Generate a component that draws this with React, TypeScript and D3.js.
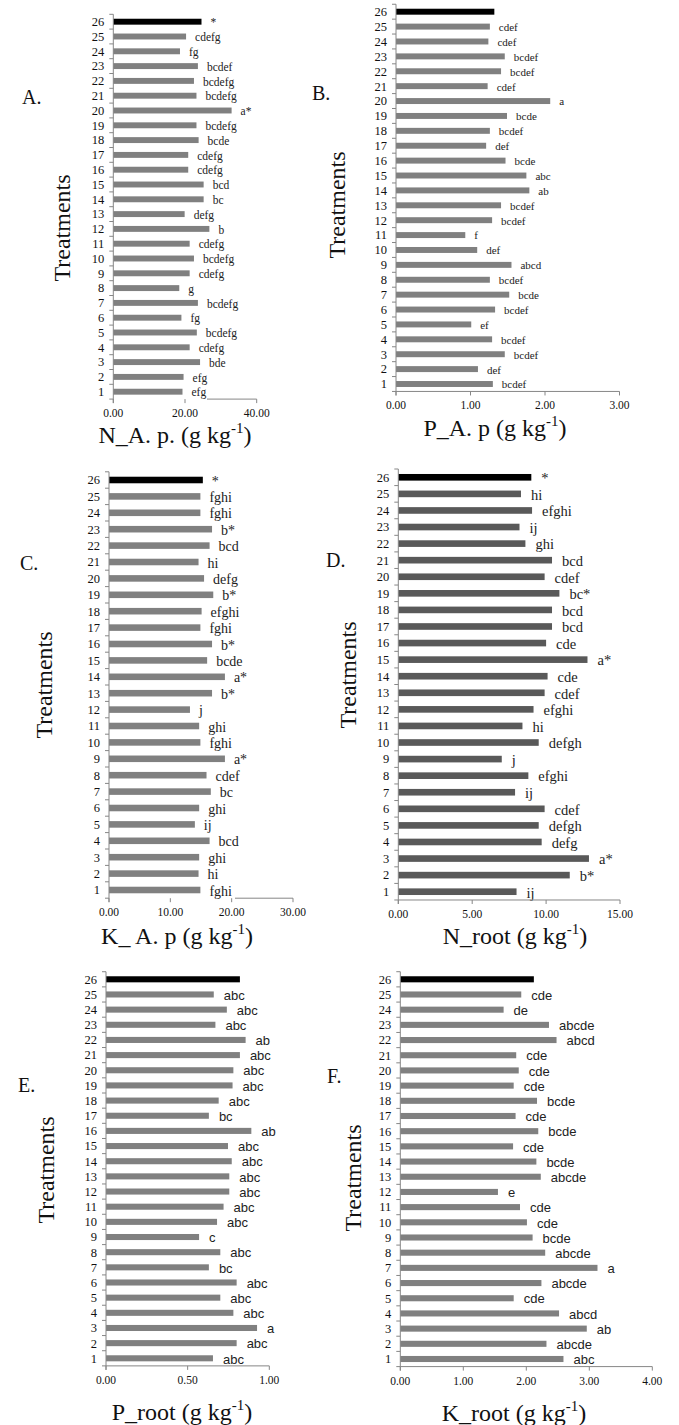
import * as d3 from 'd3';

// Treatments, top (26 = control, black bar) to bottom.
const TREATMENTS = ['26', '25', '24', '23', '22', '21', '20', '19', '18', '17', '16', '15', '14',
  '13', '12', '11', '10', '9', '8', '7', '6', '5', '4', '3', '2', '1'];

// A. N in aerial part (g kg-1)
const N_AP = [24.6, 20.3, 18.6, 23.6, 22.5, 23.2, 33.0, 23.2, 23.8, 20.9, 20.9, 25.2, 25.2,
  19.9, 26.8, 21.3, 22.5, 21.3, 18.4, 23.6, 19.0, 23.3, 21.3, 24.2, 19.6, 19.3];
const N_AP_LETTERS = ['*', 'cdefg', 'fg', 'bcdef', 'bcdefg', 'bcdefg', 'a*', 'bcdefg', 'bcde', 'cdefg',
  'cdefg', 'bcd', 'bc', 'defg', 'b', 'cdefg', 'bcdefg', 'cdefg', 'g', 'bcdefg', 'fg', 'bcdefg',
  'cdefg', 'bde', 'efg', 'efg'];

// B. P in aerial part
const P_AP = [1.32, 1.26, 1.24, 1.46, 1.41, 1.23, 2.07, 1.49, 1.26, 1.21, 1.47, 1.75, 1.79,
  1.41, 1.29, 0.93, 1.09, 1.55, 1.26, 1.52, 1.33, 1.01, 1.29, 1.46, 1.10, 1.30];
const P_AP_LETTERS = ['', 'cdef', 'cdef', 'bcdef', 'bcdef', 'cdef', 'a', 'bcde', 'bcdef', 'def', 'bcde',
  'abc', 'ab', 'bcdef', 'bcdef', 'f', 'def', 'abcd', 'bcdef', 'bcde', 'bcdef', 'ef', 'bcdef',
  'bcdef', 'def', 'bcdef'];

// C. K in aerial part
const K_AP = [15.3, 14.9, 14.9, 16.8, 16.4, 14.6, 15.5, 17.0, 15.1, 14.9, 16.8, 16.0, 18.9,
  16.8, 13.2, 14.7, 14.9, 18.9, 15.9, 16.6, 14.7, 14.0, 16.4, 14.7, 14.6, 14.9];
const K_AP_LETTERS = ['*', 'fghi', 'fghi', 'b*', 'bcd', 'hi', 'defg', 'b*', 'efghi', 'fghi', 'b*',
  'bcde', 'a*', 'b*', 'j', 'ghi', 'fghi', 'a*', 'cdef', 'bc', 'ghi', 'ij', 'bcd', 'ghi', 'hi', 'fghi'];

// D. N in root
const N_ROOT = [9.0, 8.3, 9.05, 8.2, 8.6, 10.4, 9.9, 10.9, 10.4, 10.4, 10.0, 12.8, 10.1,
  9.9, 9.15, 8.4, 9.5, 7.0, 8.8, 7.9, 9.9, 9.5, 9.7, 12.9, 11.6, 8.0];
const N_ROOT_LETTERS = ['*', 'hi', 'efghi', 'ij', 'ghi', 'bcd', 'cdef', 'bc*', 'bcd', 'bcd', 'cde',
  'a*', 'cde', 'cdef', 'efghi', 'hi', 'defgh', 'j', 'efghi', 'ij', 'cdef', 'defgh', 'defg', 'a*',
  'b*', 'ij'];

// E. P in root
const P_ROOT = [0.82, 0.66, 0.74, 0.67, 0.855, 0.82, 0.78, 0.775, 0.69, 0.63, 0.89, 0.747, 0.77,
  0.755, 0.755, 0.72, 0.68, 0.57, 0.70, 0.63, 0.80, 0.70, 0.78, 0.925, 0.80, 0.655];
const P_ROOT_LETTERS = ['', 'abc', 'abc', 'abc', 'ab', 'abc', 'abc', 'abc', 'abc', 'bc', 'ab', 'abc',
  'abc', 'abc', 'abc', 'abc', 'abc', 'c', 'abc', 'bc', 'abc', 'abc', 'abc', 'a', 'abc', 'abc'];

// F. K in root
const K_ROOT = [2.12, 1.92, 1.64, 2.36, 2.48, 1.84, 1.88, 1.80, 2.17, 1.83, 2.19, 1.79, 2.16,
  2.23, 1.55, 1.90, 2.01, 2.10, 2.30, 3.13, 2.24, 1.80, 2.52, 2.96, 2.32, 2.59];
const K_ROOT_LETTERS = ['', 'cde', 'de', 'abcde', 'abcd', 'cde', 'cde', 'cde', 'bcde', 'cde', 'bcde',
  'cde', 'bcde', 'abcde', 'e', 'cde', 'cde', 'bcde', 'abcde', 'a', 'abcde', 'cde', 'abcd', 'ab',
  'abcde', 'abc'];

const SERIF = "Liberation Serif, DejaVu Serif, Times New Roman, serif";
const SANS = "Liberation Sans, Arial, sans-serif";
const AXIS = '#868686';

type PanelCfg = {
  tag: string; title: string;
  values: number[]; letters: string[];
  xMax: number; tickStep: number;
  x0: number; x1: number; yTop: number; yBot: number;
  barColor: string; letterSize: number; letterFont: string;
  tagX: number; tagY: number; treatX: number; treatY: number;
  titleX: number; titleY: number; axisFrom?: number; labelGap: number;
};

const PANELS: PanelCfg[] = [
  { tag: 'A.', title: 'N_A. p. (g kg', values: N_AP, letters: N_AP_LETTERS, xMax: 40, tickStep: 20,
    x0: 113.3, x1: 256.7, yTop: 21.7, yBot: 391.7, barColor: '#808080', letterSize: 11.5, letterFont: SERIF,
    tagX: 22, tagY: 104, treatX: 70, treatY: 228, titleX: 175, titleY: 443, axisFrom: 207, labelGap: 9 },
  { tag: 'B.', title: 'P_A. p (g kg', values: P_AP, letters: P_AP_LETTERS, xMax: 3, tickStep: 1,
    x0: 396, x1: 619.5, yTop: 11.7, yBot: 384, barColor: '#808080', letterSize: 11, letterFont: SERIF,
    tagX: 312, tagY: 100, treatX: 345, treatY: 205, titleX: 495, titleY: 436, labelGap: 9 },
  { tag: 'C.', title: 'K_ A. p (g kg', values: K_AP, letters: K_AP_LETTERS, xMax: 30, tickStep: 10,
    x0: 109, x1: 293, yTop: 480, yBot: 890, barColor: '#808080', letterSize: 14, letterFont: SERIF,
    tagX: 20, tagY: 570, treatX: 52, treatY: 685, titleX: 177, titleY: 944, axisFrom: 235, labelGap: 9 },
  { tag: 'D.', title: 'N_root (g kg', values: N_ROOT, letters: N_ROOT_LETTERS, xMax: 15, tickStep: 5,
    x0: 398.3, x1: 620, yTop: 477.3, yBot: 891.7, barColor: '#595959', letterSize: 14.5, letterFont: SERIF,
    tagX: 326, tagY: 567, treatX: 356, treatY: 675, titleX: 515, titleY: 944, labelGap: 10 },
  { tag: 'E.', title: 'P_root (g kg', values: P_ROOT, letters: P_ROOT_LETTERS, xMax: 1, tickStep: 0.5,
    x0: 106, x1: 269.3, yTop: 979.3, yBot: 1358.3, barColor: '#808080', letterSize: 13, letterFont: SANS,
    tagX: 18, tagY: 1092, treatX: 54, treatY: 1170, titleX: 182, titleY: 1420, labelGap: 10 },
  { tag: 'F.', title: 'K_root (g kg', values: K_ROOT, letters: K_ROOT_LETTERS, xMax: 4, tickStep: 1,
    x0: 400.3, x1: 652.3, yTop: 979.3, yBot: 1359, barColor: '#808080', letterSize: 13, letterFont: SANS,
    tagX: 327, tagY: 1083, treatX: 361, treatY: 1178, titleX: 514, titleY: 1421, labelGap: 10 },
];

function Panel({ p }: { p: PanelCfg }) {
  const x = d3.scaleLinear().domain([0, p.xMax]).range([p.x0, p.x1]);
  const step = (p.yBot - p.yTop) / (TREATMENTS.length - 1);
  const y = d3.scaleBand<string>()
    .domain(TREATMENTS)
    .range([p.yTop - step / 2, p.yBot + step / 2])
    .paddingInner(0.6)
    .paddingOuter(0.3);
  const axisTop = p.yTop - step / 2;
  const axisY = p.yBot + step / 2;
  const ticks = d3.range(0, p.xMax + 1e-9, p.tickStep);
  const fmt = d3.format('.2f');

  return (
    <g>
      {/* bars */}
      {TREATMENTS.map((t, i) => (
        <rect key={t} x={x(0)} y={y(t)} width={x(p.values[i]) - x(0)} height={y.bandwidth()}
          fill={t === '26' ? '#000' : p.barColor} />
      ))}
      {/* significance letters */}
      {TREATMENTS.map((t, i) => (
        <text key={'l' + t} x={x(p.values[i]) + p.labelGap} y={(y(t) ?? 0) + y.bandwidth() / 2}
          dy="0.4em" style={{ fontFamily: p.letterFont, fontSize: p.letterSize }} fill="#222">
          {p.letters[i]}
        </text>
      ))}
      {/* category axis */}
      <line x1={p.x0} x2={p.x0} y1={axisTop} y2={axisY + 4} stroke={AXIS} />
      {d3.range(TREATMENTS.length + 1).map((i) => (
        <line key={'t' + i} x1={p.x0 - 4} x2={p.x0} y1={axisTop + i * step} y2={axisTop + i * step} stroke={AXIS} />
      ))}
      {TREATMENTS.map((t) => (
        <text key={'y' + t} x={p.x0 - 9} y={(y(t) ?? 0) + y.bandwidth() / 2} dy="0.35em"
          textAnchor="end" style={{ fontFamily: SERIF, fontSize: 12.5 }} fill="#111">{t}</text>
      ))}
      {/* value axis */}
      <line x1={p.axisFrom ?? p.x0} x2={p.x1} y1={axisY} y2={axisY} stroke={AXIS} />
      {ticks.map((v) => (
        <g key={'x' + v}>
          <line x1={x(v)} x2={x(v)} y1={axisY} y2={axisY + 4} stroke={AXIS} />
          <text x={x(v)} y={axisY + 18} textAnchor="middle" style={{ fontFamily: SERIF, fontSize: 11.5 }} fill="#111">
            {fmt(v)}
          </text>
        </g>
      ))}
      {/* titles */}
      <text x={p.titleX} y={p.titleY} textAnchor="middle" style={{ fontFamily: SERIF, fontSize: 24 }} fill="#111">
        {p.title}
        <tspan style={{ fontSize: 15 }} dy={-10}>-1</tspan>
        <tspan dy={10}>)</tspan>
      </text>
      <text transform={`translate(${p.treatX},${p.treatY}) rotate(-90)`} textAnchor="middle"
        style={{ fontFamily: SERIF, fontSize: 24 }} fill="#111">Treatments</text>
      <text x={p.tagX} y={p.tagY} style={{ fontFamily: SERIF, fontSize: 20 }} fill="#111">{p.tag}</text>
    </g>
  );
}

export default function App() {
  return (
    <svg width={679} height={1425} viewBox="0 0 679 1425"
      style={{ position: 'absolute', left: 0, top: 0, background: '#fff' }}>
      <rect width={679} height={1425} fill="#fff" />
      {PANELS.map((p) => <Panel key={p.tag} p={p} />)}
    </svg>
  );
}
